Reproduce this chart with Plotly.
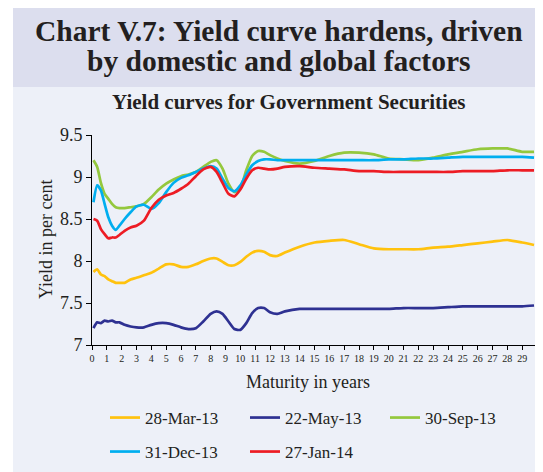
import plotly.graph_objects as go

# ---------------- data ----------------
maturity = [0.1, 0.35, 0.6, 0.85, 1.1, 1.35, 1.6, 1.85, 2.2, 2.6, 3.0, 3.5, 4.0, 4.5, 5.0,
            5.5, 6.0, 6.5, 7.0, 7.5, 8.0, 8.4, 8.8, 9.2, 9.6, 10.0, 10.4, 10.8, 11.2, 11.6,
            12.0, 12.5, 13.0, 14, 15, 16, 17, 18, 19, 20, 21, 22, 23, 24, 25, 26, 27, 28, 29, 29.8]

mar13 = [7.87, 7.90, 7.84, 7.82, 7.78, 7.76, 7.74, 7.74, 7.74, 7.78, 7.80, 7.83, 7.86, 7.91, 7.96,
         7.96, 7.93, 7.93, 7.96, 8.00, 8.03, 8.03, 7.99, 7.95, 7.95, 7.99, 8.05, 8.10, 8.12, 8.11,
         8.07, 8.06, 8.10, 8.17, 8.22, 8.24, 8.25, 8.20, 8.15, 8.14, 8.14, 8.14, 8.16, 8.17, 8.19,
         8.21, 8.23, 8.25, 8.22, 8.19]

may13 = [7.20, 7.27, 7.26, 7.29, 7.28, 7.29, 7.27, 7.27, 7.24, 7.22, 7.21, 7.21, 7.24, 7.26, 7.26,
         7.24, 7.21, 7.19, 7.20, 7.28, 7.37, 7.40, 7.37, 7.28, 7.19, 7.18, 7.26, 7.38, 7.44, 7.44,
         7.39, 7.37, 7.40, 7.43, 7.43, 7.43, 7.43, 7.43, 7.43, 7.43, 7.44, 7.44, 7.44, 7.45, 7.46,
         7.46, 7.46, 7.46, 7.46, 7.47]

sep13 = [9.20, 9.12, 8.93, 8.80, 8.74, 8.68, 8.64, 8.63, 8.63, 8.64, 8.65, 8.68, 8.76, 8.85, 8.92,
         8.97, 9.01, 9.03, 9.06, 9.12, 9.18, 9.20, 9.10, 8.92, 8.82, 8.87, 9.08, 9.25, 9.31, 9.30,
         9.26, 9.22, 9.19, 9.16, 9.19, 9.25, 9.29, 9.29, 9.27, 9.22, 9.21, 9.20, 9.23, 9.27, 9.30,
         9.33, 9.34, 9.34, 9.30, 9.30]

dec13 = [8.70, 8.90, 8.84, 8.68, 8.52, 8.42, 8.37, 8.42, 8.50, 8.58, 8.65, 8.67, 8.62, 8.69, 8.82,
         8.93, 8.99, 9.02, 9.06, 9.10, 9.13, 9.10, 8.98, 8.87, 8.83, 8.90, 9.03, 9.14, 9.19, 9.21,
         9.21, 9.20, 9.20, 9.20, 9.20, 9.20, 9.20, 9.20, 9.20, 9.21, 9.21, 9.22, 9.22, 9.23, 9.24,
         9.24, 9.24, 9.24, 9.24, 9.23]

jan14 = [8.50, 8.48, 8.38, 8.32, 8.27, 8.28, 8.28, 8.31, 8.36, 8.40, 8.42, 8.48, 8.63, 8.73, 8.78,
         8.81, 8.86, 8.92, 9.01, 9.09, 9.12, 9.06, 8.93, 8.80, 8.77, 8.85, 8.98, 9.08, 9.11, 9.10,
         9.09, 9.10, 9.12, 9.13, 9.11, 9.10, 9.09, 9.07, 9.07, 9.06, 9.06, 9.06, 9.06, 9.06, 9.07,
         9.07, 9.07, 9.08, 9.08, 9.08]

series_names = ["28-Mar-13", "22-May-13", "30-Sep-13", "31-Dec-13", "27-Jan-14"]
series_values = [mar13, may13, sep13, dec13, jan14]
series_colors = ["#FFC20E", "#2E3192", "#94C83D", "#00AEEF", "#ED1C24"]
series_legend = ["legend", "legend", "legend", "legend2", "legend2"]

x_tick_vals = list(range(0, 30))
y_tick_vals = [7, 7.5, 8, 8.5, 9, 9.5]
y_tick_text = ["7", "7.5", "8", "8.5", "9", "9.5"]

title_line1 = "Chart V.7: Yield curve hardens, driven"
title_line2 = "by domestic and global factors"
subtitle = "Yield curves for Government Securities"
x_title = "Maturity in years"
y_title = "Yield in per cent"

# ---------------- layout geometry ----------------
# The page body adds an 8px margin, so the figure is sized to fill the
# 543x472 window exactly and positions below are given in window pixels.
OFF = 8
SW, SH = 543, 472
W, H = SW - OFF, SH - OFF
L, R, T, B = 92, 537, 135, 345   # plot-area edges in window pixels


def px(xs):
    return (xs - L) / (R - L)


def py(ys):
    return (B - ys) / (B - T)


def cx(xs):
    return (xs - OFF) / W


def cy(ys):
    return 1 - (ys - OFF) / H


FONT = "Liberation Serif, Times New Roman, serif"
TXT = "#231F20"

fig = go.Figure()
for name, vals, col, lg in zip(series_names, series_values, series_colors, series_legend):
    fig.add_trace(go.Scatter(
        x=maturity, y=vals, name=name, mode="lines",
        line=dict(color=col, width=2.7, shape="spline", smoothing=0.6),
        legend=lg,
    ))

legend_common = dict(
    orientation="h", xref="container", yref="container",
    xanchor="left", yanchor="middle",
    entrywidth=95, entrywidthmode="pixels",
    font=dict(family=FONT, size=17, color=TXT),
    bgcolor="rgba(0,0,0,0)", borderwidth=0,
)

LEG_X = 105   # window x of legend box (sample line starts ~6px further right)

fig.update_layout(
    width=W, height=H,
    margin=dict(l=L - OFF, r=SW - R, t=T - OFF, b=SH - B),
    paper_bgcolor="white",
    plot_bgcolor="rgba(0,0,0,0)",
    font=dict(family=FONT, color=TXT),
    showlegend=True,
    legend=dict(legend_common, x=cx(LEG_X), y=cy(418)),
    legend2=dict(legend_common, x=cx(LEG_X), y=cy(452)),
    xaxis=dict(
        range=[0, 30], tickmode="array", tickvals=x_tick_vals,
        ticks="outside", ticklen=4, tickcolor="black", tickwidth=1,
        showline=True, linecolor="black", linewidth=1,
        showgrid=False, zeroline=False,
        tickfont=dict(family=FONT, size=10, color=TXT),
    ),
    yaxis=dict(
        range=[7, 9.5], tickmode="array", tickvals=y_tick_vals, ticktext=y_tick_text,
        ticks="outside", ticklen=5, tickcolor="black", tickwidth=1,
        showline=True, linecolor="black", linewidth=1,
        showgrid=False, zeroline=False,
        tickfont=dict(family=FONT, size=18, color=TXT),
    ),
    shapes=[
        dict(type="rect", xref="paper", yref="paper", layer="below",
             x0=px(13), x1=px(SW + 5), y0=py(SH + 5), y1=py(87),
             fillcolor="#EDF0F8", line=dict(width=0)),
        dict(type="rect", xref="paper", yref="paper", layer="below",
             x0=px(13), x1=px(SW + 5), y0=py(87), y1=py(7),
             fillcolor="#DCDEEE", line=dict(width=0)),
    ],
    annotations=[
        dict(text="<b>%s</b>" % title_line1, xref="paper", yref="paper",
             x=px(279), y=py(31), xanchor="center", yanchor="middle", showarrow=False,
             font=dict(family=FONT, size=29.5, color=TXT)),
        dict(text="<b>%s</b>" % title_line2, xref="paper", yref="paper",
             x=px(279), y=py(61), xanchor="center", yanchor="middle", showarrow=False,
             font=dict(family=FONT, size=29.5, color=TXT)),
        dict(text="<b>%s</b>" % subtitle, xref="paper", yref="paper",
             x=px(288), y=py(102), xanchor="center", yanchor="middle", showarrow=False,
             font=dict(family=FONT, size=21, color=TXT)),
        dict(text=x_title, xref="paper", yref="paper",
             x=px(308), y=py(382), xanchor="center", yanchor="middle", showarrow=False,
             font=dict(family=FONT, size=18, color=TXT)),
        dict(text=y_title, xref="paper", yref="paper", textangle=-90,
             x=px(46), y=py(240), xanchor="center", yanchor="middle", showarrow=False,
             font=dict(family=FONT, size=18, color=TXT)),
    ],
)

fig.write_html("out.html")
